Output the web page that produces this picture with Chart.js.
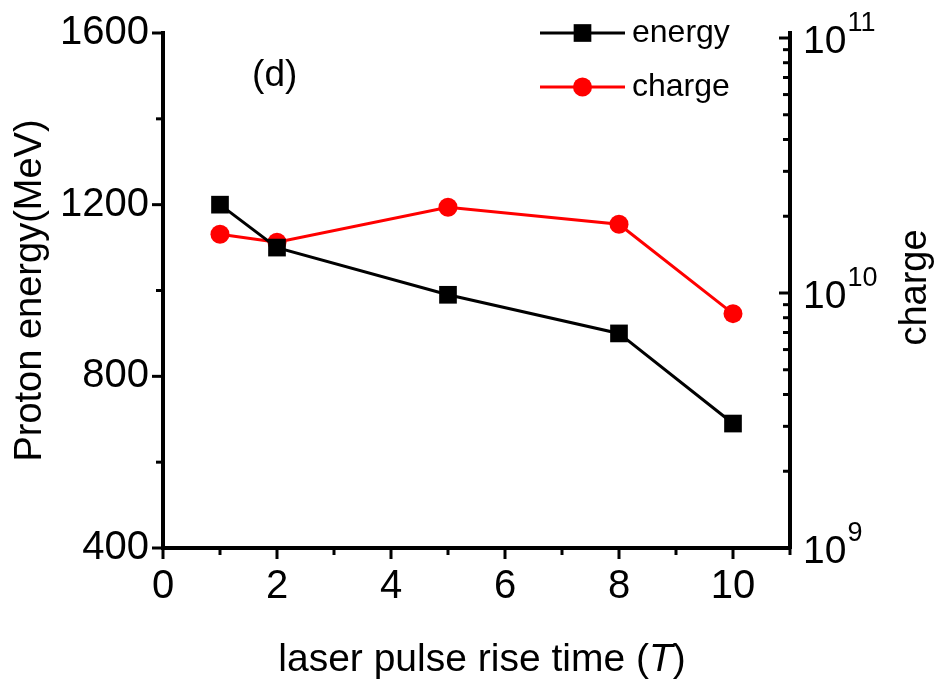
<!DOCTYPE html>
<html><head><meta charset="utf-8">
<script src="https://cdn.jsdelivr.net/npm/chart.js@4/dist/chart.umd.min.js"></script>
<style>html,body{margin:0;padding:0;background:#fff;}</style>
</head><body>
<canvas id="c" width="936" height="681"></canvas>
<script>
// ---- data ----
const riseTimes = [1, 2, 5, 8, 10];
const energyMeV = [1200, 1100, 990, 900, 690];
const chargeValues = [1.70e10, 1.58e10, 2.17e10, 1.86e10, 8.3e9];
const xTickValues = [0, 2, 4, 6, 8, 10];
const energyTickValues = [400, 800, 1200, 1600];
const chargeDecades = [9, 10, 11];
const seriesNames = ['energy', 'charge'];
const panelLabel = '(d)';

const FONT = "'Liberation Sans', Arial, Helvetica, sans-serif";
Chart.defaults.font.family = FONT;
Chart.defaults.color = '#000';

const AREA = {left: 163, right: 790, top: 33, bottom: 548};
const W = 936, H = 681;

function line(ctx, x1, y1, x2, y2) { ctx.beginPath(); ctx.moveTo(x1, y1); ctx.lineTo(x2, y2); ctx.stroke(); }

const decor = {
  id: 'decor',
  afterDraw(chart) {
    const {ctx, chartArea: ca, scales} = chart;
    const xs = scales.x, ys = scales.y, yr = scales.y1;
    ctx.save();
    ctx.strokeStyle = '#000';
    ctx.lineWidth = 3;
    // x ticks (major at even, minor at odd), outward
    for (let v = 0; v <= 11; v++) {
      const px = xs.getPixelForValue(v);
      line(ctx, px, ca.bottom, px, ca.bottom + (v % 2 === 0 ? 11 : 7));
    }
    // left ticks, outward
    for (let v = 400; v <= 1600; v += 200) {
      const py = ys.getPixelForValue(v);
      line(ctx, ca.left, py, ca.left - (v % 400 === 0 ? 11 : 7), py);
    }
    // right log ticks, inward
    for (let e = chargeDecades[0]; e <= chargeDecades[chargeDecades.length - 1]; e++) {
      for (let m = 1; m <= 9; m++) {
        const val = m * Math.pow(10, e);
        if (val > yr.max * 1.0001 || val < yr.min * 0.9999) continue;
        const py = yr.getPixelForValue(val);
        line(ctx, ca.right, py, ca.right - (m === 1 ? 11 : 7), py);
      }
    }
    // right tick labels 10^n
    ctx.fillStyle = '#000';
    ctx.textBaseline = 'middle';
    ctx.textAlign = 'left';
    chargeDecades.forEach(e => {
      const py = yr.getPixelForValue(Math.pow(10, e));
      ctx.font = '39px ' + FONT;
      const bx = ca.right + 13;
      ctx.fillText('10', bx, py + 4);
      const w = ctx.measureText('10').width;
      ctx.font = '27px ' + FONT;
      ctx.fillText(String(e), bx + w + 1, py - 14);
    });
    // right axis title, reading bottom-to-top
    ctx.save();
    ctx.translate(916, (ca.top + ca.bottom) / 2 - 3);
    ctx.rotate(-Math.PI / 2);
    ctx.font = '38px ' + FONT;
    ctx.textAlign = 'center';
    ctx.textBaseline = 'middle';
    ctx.fillText(yr.options.title.text, 0, 0);
    ctx.restore();
    // x axis title with italic T
    ctx.textBaseline = 'middle';
    ctx.textAlign = 'left';
    const parts = [['laser pulse rise time (', '39px ' + FONT], ['T', 'italic 39px ' + FONT], [')', '39px ' + FONT]];
    let tot = 0;
    parts.forEach(p => { ctx.font = p[1]; tot += ctx.measureText(p[0]).width; });
    let tx = 482 - tot / 2;
    const ty = 660;
    parts.forEach(p => { ctx.font = p[1]; ctx.fillText(p[0], tx, ty); tx += ctx.measureText(p[0]).width; });
    // panel label
    ctx.font = '37px ' + FONT;
    ctx.textAlign = 'center';
    ctx.fillText(panelLabel, xs.getPixelForValue(1.96), ys.getPixelForValue(1500));
    // legend
    const lx1 = 540, lx2 = 625, ly = [33, 87];
    chart.data.datasets.forEach((ds, i) => {
      ctx.strokeStyle = ds.borderColor;
      ctx.lineWidth = ds.borderWidth;
      line(ctx, lx1, ly[i], lx2, ly[i]);
      ctx.fillStyle = ds.backgroundColor;
      Chart.helpers.drawPoint(ctx, {pointStyle: ds.pointStyle, radius: ds.pointRadius, borderWidth: 0, rotation: 0}, (lx1 + lx2) / 2, ly[i]);
      ctx.fillStyle = '#000';
      ctx.font = '32px ' + FONT;
      ctx.textAlign = 'left';
      ctx.fillText(ds.label, 632, ly[i]);
    });
    ctx.restore();
  }
};

new Chart(document.getElementById('c'), {
  type: 'line',
  data: {
    datasets: [
      {
        label: seriesNames[0],
        data: riseTimes.map((t, i) => ({x: t, y: energyMeV[i]})),
        yAxisID: 'y',
        borderColor: '#000000',
        backgroundColor: '#000000',
        borderWidth: 3,
        pointStyle: 'rect',
        pointRadius: 12.5,
        pointBorderWidth: 0,
        tension: 0
      },
      {
        label: seriesNames[1],
        data: riseTimes.map((t, i) => ({x: t, y: chargeValues[i]})),
        yAxisID: 'y1',
        borderColor: '#ff0000',
        backgroundColor: '#ff0000',
        borderWidth: 3,
        pointStyle: 'circle',
        pointRadius: 9.5,
        pointBorderWidth: 0,
        tension: 0
      }
    ]
  },
  options: {
    responsive: false,
    animation: false,
    devicePixelRatio: 1,
    layout: {padding: {top: AREA.top, left: 0, right: 0, bottom: 0}},
    plugins: {legend: {display: false}, tooltip: {enabled: false}},
    scales: {
      x: {
        type: 'linear', min: 0, max: 11, position: 'bottom',
        afterBuildTicks: s => { s.ticks = xTickValues.map(v => ({value: v})); },
        afterFit: s => { s.height = H - AREA.bottom; },
        grid: {display: true, drawOnChartArea: false, drawTicks: true, tickLength: 11, tickColor: 'rgba(0,0,0,0)', color: 'rgba(0,0,0,0)'},
        border: {display: true, color: '#000', width: 4},
        ticks: {font: {size: 40}, color: '#000', padding: 4, maxRotation: 0, autoSkip: false, callback: v => String(v)}
      },
      y: {
        type: 'linear', min: 400, max: 1600, position: 'left',
        afterBuildTicks: s => { s.ticks = energyTickValues.map(v => ({value: v})); },
        afterFit: s => { s.width = AREA.left; },
        grid: {display: true, drawOnChartArea: false, drawTicks: true, tickLength: 11, tickColor: 'rgba(0,0,0,0)', color: 'rgba(0,0,0,0)'},
        border: {display: true, color: '#000', width: 4},
        ticks: {font: {size: 40}, color: '#000', padding: 3, callback: v => String(v)},
        title: {display: true, text: 'Proton energy(MeV)', font: {size: 38}, color: '#000', padding: {top: 8, bottom: 0}}
      },
      y1: {
        type: 'logarithmic', min: 1e9, max: Math.pow(10, 11 + 5 / 255), position: 'right',
        afterFit: s => { s.width = W - AREA.right; },
        grid: {display: false, drawOnChartArea: false},
        border: {display: true, color: '#000', width: 4},
        ticks: {display: false},
        title: {display: false, text: 'charge'}
      }
    }
  },
  plugins: [decor]
});
</script>
</body></html>
